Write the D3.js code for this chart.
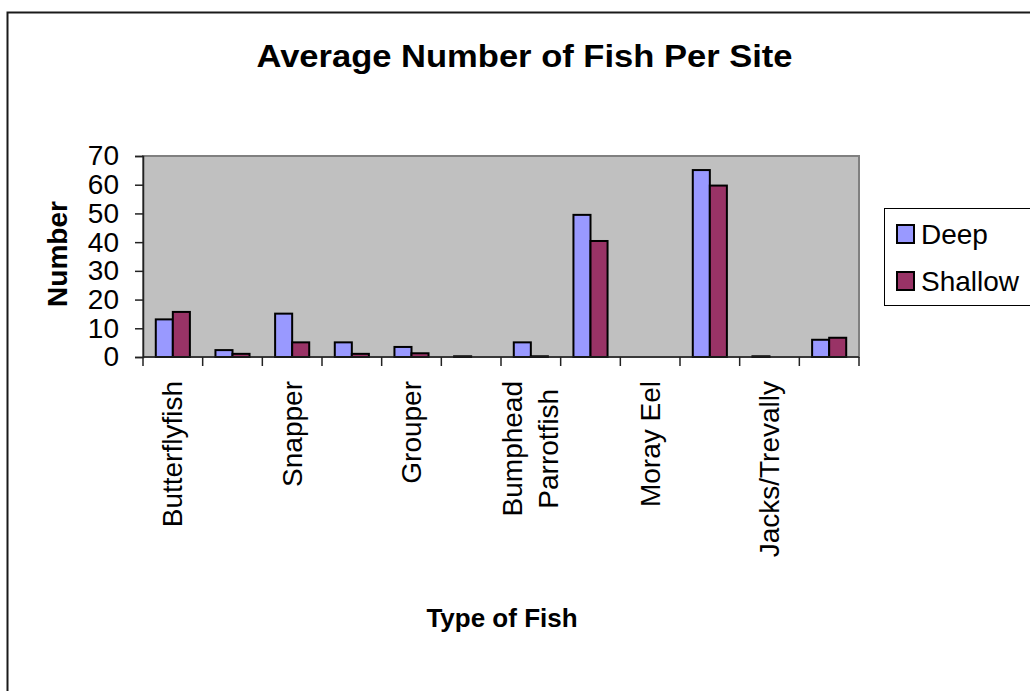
<!DOCTYPE html>
<html>
<head>
<meta charset="utf-8">
<script src="https://cdn.jsdelivr.net/npm/d3@7"></script>
<style>
  html, body { margin: 0; padding: 0; background: #ffffff; }
  svg { display: block; }
  text { font-family: "Liberation Sans", Arial, sans-serif; fill: #000; }
</style>
</head>
<body>
<svg id="chart" width="1030" height="691"></svg>
<script>
// Fish survey: average count per site, deep vs shallow
const categories = [
  ["Butterflyfish"], [""], ["Snapper"], [""], ["Grouper"], [""],
  ["Bumphead", "Parrotfish"], [""], ["Moray Eel"], [""], ["Jacks/Trevally"], [""]
];
const seriesNames = ["Deep", "Shallow"];
const deepValues    = [13.1, 2.4, 15.1, 5.1, 3.5, 0.25, 5.1, 49.5, 0, 65.1, 0.25, 6.0];
const shallowValues = [15.7, 1.1, 5.1, 1.1, 1.3, 0,    0.25, 40.4, 0, 59.7, 0,   6.7];
const yTicks = [0, 10, 20, 30, 40, 50, 60, 70];
const colors = ["#9999FF", "#993366"];

const svg = d3.select("#chart");

// outer chart frame
svg.append("rect")
  .attr("x", 7.5).attr("y", 12.5)
  .attr("width", 1060).attr("height", 720)
  .attr("fill", "#fff").attr("stroke", "#1a1a1a").attr("stroke-width", 2);

const plot = { left: 143, top: 156, right: 859, bottom: 357 };

const x = d3.scaleBand()
  .domain(d3.range(categories.length))
  .range([plot.left, plot.right])
  .padding(0);

const xSeries = d3.scaleBand()
  .domain(seriesNames)
  .range([0, x.bandwidth()])
  .paddingInner(0)
  .paddingOuter(0.75);

const y = d3.scaleLinear()
  .domain([0, 70])
  .range([plot.bottom, plot.top]);

// plot background
svg.append("rect")
  .attr("x", plot.left).attr("y", plot.top)
  .attr("width", plot.right - plot.left).attr("height", plot.bottom - plot.top)
  .attr("fill", "#C0C0C0")
  .attr("stroke", "#808080").attr("stroke-width", 2);

// bars
const rows = categories.map((c, i) => ({ i, values: [deepValues[i], shallowValues[i]] }));
const groups = svg.append("g").selectAll("g")
  .data(rows).join("g")
  .attr("transform", d => `translate(${x(d.i)},0)`);

groups.selectAll("rect")
  .data(d => d.values.map((v, k) => ({ v, k })))
  .join("rect")
  .attr("x", d => xSeries(seriesNames[d.k]))
  .attr("width", xSeries.bandwidth())
  .attr("y", d => y(d.v))
  .attr("height", d => y(0) - y(d.v))
  .attr("fill", d => colors[d.k])
  .attr("stroke", "#000").attr("stroke-width", 2);

// y axis
const yAxis = d3.axisLeft(y).tickValues(yTicks).tickSize(8).tickPadding(16);
const gy = svg.append("g").attr("transform", `translate(${plot.left},0)`).call(yAxis);
gy.select(".domain").attr("stroke", "#222").attr("stroke-width", 1.5);
gy.selectAll(".tick line").attr("stroke", "#222").attr("stroke-width", 1.5);
gy.selectAll(".tick text")
  .attr("font-size", 28).attr("font-family", "Liberation Sans, Arial, sans-serif")
  .attr("fill", "#000");

// x axis: ticks at category boundaries
const boundaries = d3.range(categories.length + 1).map(i => plot.left + i * x.step());
svg.append("line")
  .attr("x1", plot.left).attr("x2", plot.right)
  .attr("y1", plot.bottom).attr("y2", plot.bottom)
  .attr("stroke", "#222").attr("stroke-width", 1.5);
svg.append("g").selectAll("line")
  .data(boundaries).join("line")
  .attr("x1", d => d).attr("x2", d => d)
  .attr("y1", plot.bottom).attr("y2", plot.bottom + 9)
  .attr("stroke", "#222").attr("stroke-width", 1.5);

// category labels, rotated, end of the text block near the axis
const labelTop = 381;
const lineGap = 36;
categories.forEach((lines, i) => {
  if (!lines[0]) return;
  const cx = x(i) + x.bandwidth() / 2;
  const g = svg.append("g");
  const texts = lines.map((s, j) => {
    const lx = cx + (j - (lines.length - 1) / 2) * lineGap;
    return g.append("text")
      .attr("font-size", 28)
      .attr("dominant-baseline", "central")
      .text(s)
      .datum(lx);
  });
  const maxLen = d3.max(texts, t => t.node().getComputedTextLength());
  texts.forEach(t => {
    const lx = t.datum();
    const cy = labelTop + maxLen / 2;
    t.attr("text-anchor", "middle")
      .attr("transform", `translate(${lx},${cy}) rotate(-90)`);
  });
});

// title
svg.append("text")
  .attr("x", 524.5).attr("y", 67)
  .attr("text-anchor", "middle")
  .attr("font-size", 31).attr("font-weight", "bold")
  .attr("textLength", 536).attr("lengthAdjust", "spacingAndGlyphs")
  .text("Average Number of Fish Per Site");

// axis titles
svg.append("text")
  .attr("transform", "translate(67,254) rotate(-90)")
  .attr("text-anchor", "middle")
  .attr("font-size", 28).attr("font-weight", "bold")
  .text("Number");

svg.append("text")
  .attr("x", 502).attr("y", 627)
  .attr("text-anchor", "middle")
  .attr("font-size", 26).attr("font-weight", "bold")
  .text("Type of Fish");

// legend
const legend = svg.append("g");
legend.append("rect")
  .attr("x", 884.5).attr("y", 208.5)
  .attr("width", 200).attr("height", 97)
  .attr("fill", "#fff").attr("stroke", "#000").attr("stroke-width", 1);
seriesNames.forEach((name, k) => {
  const top = 225 + k * 47;
  legend.append("rect")
    .attr("x", 897).attr("y", top)
    .attr("width", 17).attr("height", 18)
    .attr("fill", colors[k]).attr("stroke", "#000").attr("stroke-width", 2);
  legend.append("text")
    .attr("x", 921).attr("y", top + 18.5)
    .attr("font-size", 28)
    .text(name);
});
</script>
</body>
</html>
